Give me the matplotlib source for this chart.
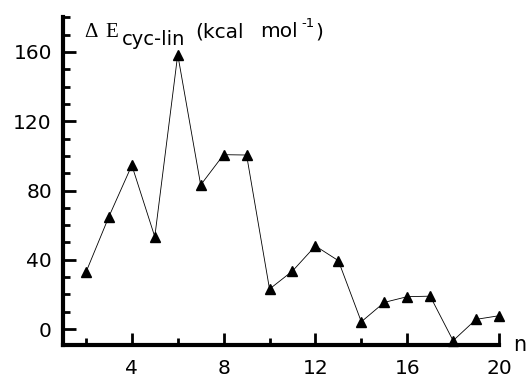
import matplotlib
matplotlib.use("Agg")
import matplotlib.pyplot as plt
from matplotlib.ticker import MultipleLocator

# --- data ---
n = [2, 3, 4, 5, 6, 7, 8, 9, 10, 11, 12, 13, 14, 15, 16, 17, 18, 19, 20]
dE = [32.8, 64.9, 94.6, 53.3, 158.5, 83.2, 100.7, 100.5, 23.1, 33.5,
      48.0, 39.5, 4.2, 15.4, 18.7, 19.0, -6.7, 5.6, 7.7]
x_ticks = [4, 8, 12, 16, 20]
y_ticks = [0, 40, 80, 120, 160]

W, H = 527, 383
fig = plt.figure(figsize=(W / 100, H / 100), dpi=100)
ax = fig.add_axes([63 / W, 1 - 345 / H, (499 - 63) / W, (345 - 17) / H])

ax.plot(n, dE, color="black", lw=0.6, marker="^", ms=7.5,
        mfc="black", mec="black", clip_on=False, zorder=3)

ax.set_xlim(1, 20)
ax.set_ylim(-9.2, 180.2)

ax.set_xticks(x_ticks)
ax.xaxis.set_minor_locator(MultipleLocator(2))
ax.set_yticks(y_ticks)
ax.yaxis.set_minor_locator(MultipleLocator(10))

for s in ["top", "right"]:
    ax.spines[s].set_visible(False)
for s in ["left", "bottom"]:
    ax.spines[s].set_linewidth(3)

ax.tick_params(which="major", direction="in", length=9, width=2, labelsize=14.5)
ax.tick_params(which="minor", direction="in", length=5, width=2)
ax.tick_params(axis="y", which="major", pad=8)
ax.tick_params(axis="x", which="major", pad=10)

# axis name "n" at the right end of the x axis
ax.text(20.9, -9.2, "n", fontsize=15, ha="center", va="center", clip_on=False)

# y label at the top, built from pieces
def ftxt(x, y, s, **kw):
    fig.text(x / W, 1 - y / H, s, va="baseline", **kw)

ftxt(84, 37, "\u0394", fontsize=15, family="Liberation Serif")
ftxt(105, 37, "E", fontsize=15, family="Liberation Serif")
ftxt(122, 45, "cyc-lin", fontsize=14, family="DejaVu Sans")
ftxt(195, 37, "(kcal", fontsize=14.5, family="DejaVu Sans")
ftxt(260, 37, "mol", fontsize=14.5, family="DejaVu Sans")
ftxt(301, 27, "-1", fontsize=9.5, family="DejaVu Sans")
ftxt(315, 37, ")", fontsize=14.5, family="DejaVu Sans")

plt.savefig("out.png", dpi=100)
